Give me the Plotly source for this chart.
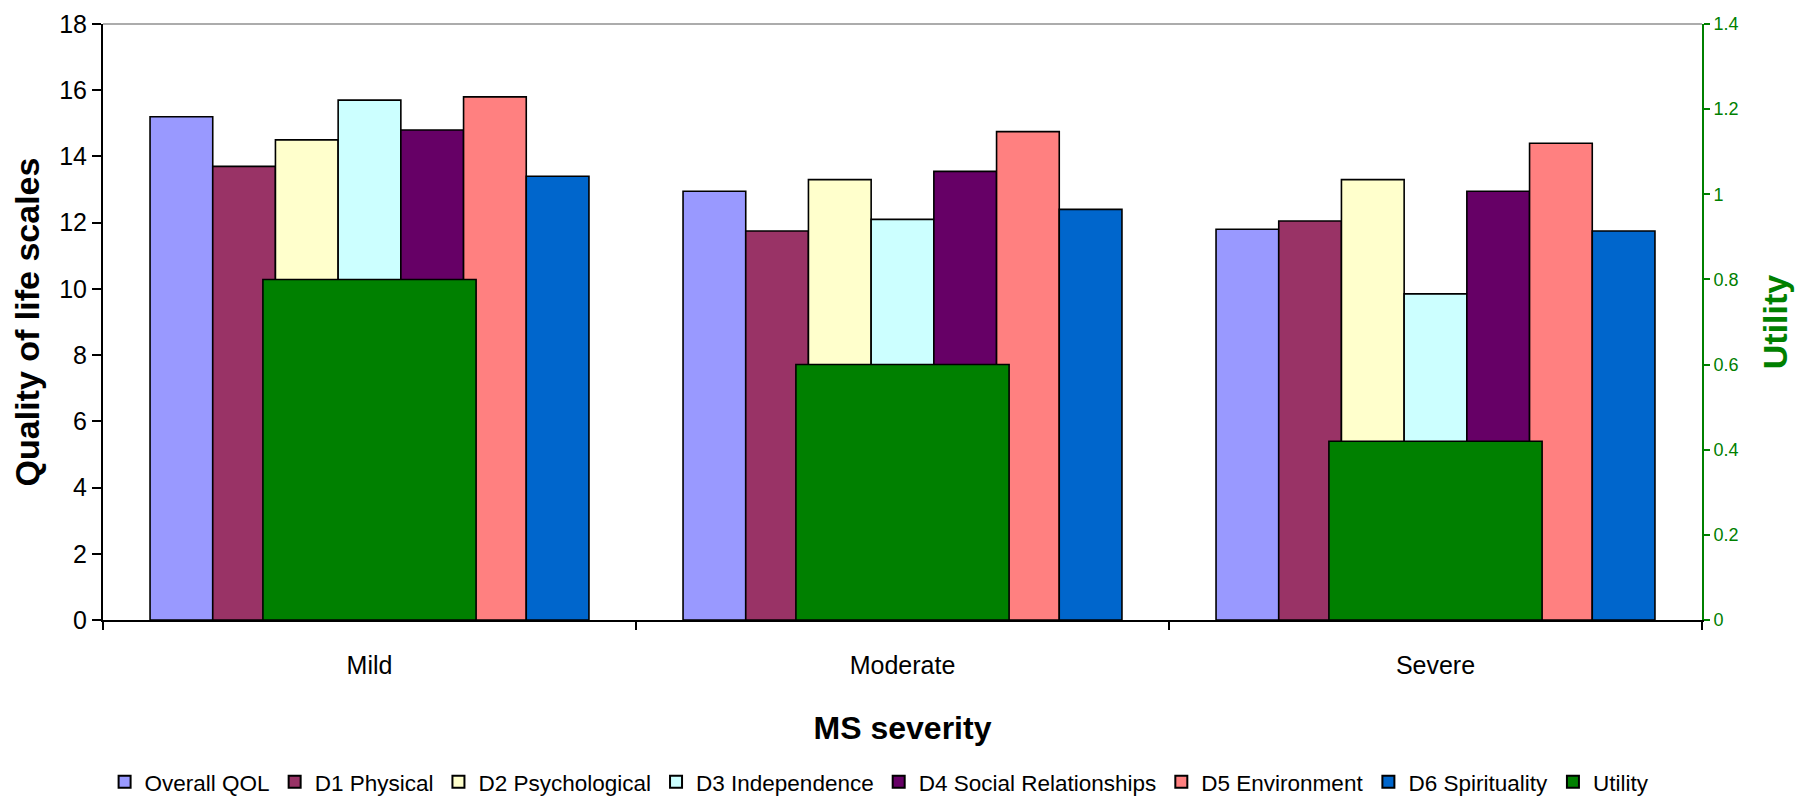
import plotly.graph_objects as go

categories = ["Mild", "Moderate", "Severe"]
overall_qol = [15.2, 12.95, 11.8]
d1_physical = [13.7, 11.75, 12.05]
d2_psychological = [14.5, 13.3, 13.3]
d3_independence = [15.7, 12.1, 9.85]
d4_social = [14.8, 13.55, 12.95]
d5_environment = [15.8, 14.75, 14.4]
d6_spirituality = [13.4, 12.4, 11.75]
utility = [0.80, 0.60, 0.42]

series_names = ["Overall QOL", "D1 Physical", "D2 Psychological", "D3 Independence",
                "D4 Social Relationships", "D5 Environment", "D6 Spirituality"]
series_values = [overall_qol, d1_physical, d2_psychological, d3_independence,
                 d4_social, d5_environment, d6_spirituality]
series_colors = ["#9999FF", "#993366", "#FFFFCC", "#CCFFFF", "#660066", "#FF8080", "#0066CC"]

FONT = "Liberation Sans, Arial, sans-serif"

fig = go.Figure()
for name, vals, col in zip(series_names, series_values, series_colors):
    fig.add_trace(go.Bar(
        x=categories, y=vals, name=name,
        marker=dict(color=col, line=dict(color="black", width=1.6)),
        yaxis="y", offsetgroup=name,
    ))

fig.add_trace(go.Bar(
    x=categories, y=utility, name="Utility",
    marker=dict(color="#008000", line=dict(color="black", width=1.6)),
    yaxis="y2", width=0.4, offset=-0.2,
))

# page body has an 8px default margin, so the figure is drawn 8px smaller
fig.update_layout(
    width=1796, height=792,
    margin=dict(l=95, r=102, t=16, b=180, autoexpand=False),
    paper_bgcolor="white", plot_bgcolor="white",
    barmode="group", bargap=0.1765, bargroupgap=0,
    font=dict(family=FONT, color="black", size=25),
    showlegend=True,
    legend=dict(orientation="h", x=0.001, xanchor="left", y=-0.272, yanchor="middle",
                font=dict(family=FONT, size=22.5, color="black"),
                itemsizing="constant", tracegroupgap=0, itemwidth=30,
                bgcolor="rgba(0,0,0,0)"),
    xaxis=dict(
        type="category", showgrid=False, showline=True, linecolor="black", linewidth=2,
        ticks="outside", tickson="boundaries", ticklen=8, tickwidth=2, tickcolor="black",
        tickfont=dict(family=FONT, size=25, color="black"),
        ticklabelstandoff=22, automargin=False,
        title=dict(text="<b>MS severity</b>", font=dict(family=FONT, size=32, color="black"),
                   standoff=39),
    ),
    yaxis=dict(
        range=[0, 18], dtick=2, showgrid=False, zeroline=False,
        showline=True, linecolor="black", linewidth=2,
        ticks="outside", ticklen=9, tickwidth=2, tickcolor="black",
        tickfont=dict(family=FONT, size=25, color="black"), automargin=False,
        title=dict(text="<b>Quality of life scales</b>",
                   font=dict(family=FONT, size=34, color="black"), standoff=10),
    ),
    yaxis2=dict(
        overlaying="y", side="right", range=[0, 1.4], dtick=0.2,
        showgrid=False, zeroline=False,
        showline=True, linecolor="#008000", linewidth=2,
        ticks="outside", ticklen=6, tickwidth=2, tickcolor="#008000",
        tickfont=dict(family=FONT, size=18, color="#008000"), automargin=False,
        title=dict(text="<b>Utility</b>", font=dict(family=FONT, size=34, color="#008000"),
                   standoff=26),
    ),
    shapes=[dict(type="line", xref="paper", yref="paper", x0=0, x1=1, y0=1, y1=1,
                 line=dict(color="#909090", width=1.5))],
)

fig.write_html("out.html")
